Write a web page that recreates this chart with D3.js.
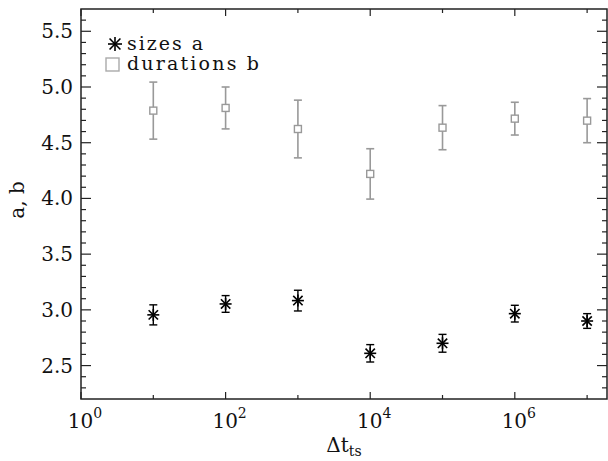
<!DOCTYPE html>
<html>
<head>
<meta charset="utf-8">
<script src="https://cdn.jsdelivr.net/npm/d3@7"></script>
<style>
  html, body { margin: 0; padding: 0; background: #fff; }
  svg { display: block; }
  text { font-family: "DejaVu Serif", "Liberation Serif", serif; fill: #111; }
</style>
</head>
<body>
<svg id="chart" width="608" height="461"></svg>
<script>
// ---- data ----
const xExponents = [1, 2, 3, 4, 5, 6, 7];           // Δt_ts = 10^k
const sizesA     = [2.955, 3.053, 3.083, 2.610, 2.700, 2.966, 2.900];
const sizesAErr  = [0.090, 0.075, 0.093, 0.078, 0.080, 0.075, 0.066];
const durB       = [4.788, 4.812, 4.623, 4.220, 4.635, 4.716, 4.698];
const durBErr    = [0.256, 0.188, 0.259, 0.226, 0.198, 0.147, 0.198];
const yTickLabels = ["2.5", "3.0", "3.5", "4.0", "4.5", "5.0", "5.5"];
const xTickLabelExp = [0, 2, 4, 6];
const legendLabels = ["sizes a", "durations b"];

// ---- layout ----
const L = 81, R = 607, T = 9, B = 399;
const svg = d3.select("#chart");

const x = d3.scaleLog().domain([1, Math.pow(10, 7.275)]).range([L, R]);
const y = d3.scaleLinear().domain([2.2, 5.7]).range([B, T]);

const axisColor = "#222";
const gray = "#999";

// frame
svg.append("rect").attr("x", L).attr("y", T).attr("width", R - L).attr("height", B - T)
  .attr("fill", "none").attr("stroke", axisColor).attr("stroke-width", 1.5);

// y ticks (major every 0.5, minor every 0.1)
const yMinor = d3.range(23, 57).map(v => v / 10);
yMinor.forEach(v => {
  const major = Math.abs(v * 2 - Math.round(v * 2)) < 1e-6;
  const len = major ? 10 : 5;
  const yy = y(v);
  svg.append("line").attr("x1", L).attr("x2", L + len).attr("y1", yy).attr("y2", yy)
    .attr("stroke", axisColor).attr("stroke-width", 1.2);
  svg.append("line").attr("x1", R).attr("x2", R - len).attr("y1", yy).attr("y2", yy)
    .attr("stroke", axisColor).attr("stroke-width", 1.2);
});
yTickLabels.forEach(t => {
  svg.append("text").attr("x", L - 8).attr("y", y(+t) + 7)
    .attr("text-anchor", "end").attr("font-size", 20).text(t);
});

// x ticks
d3.range(0, 8).forEach(k => {
  const xx = x(Math.pow(10, k));
  const major = xTickLabelExp.includes(k);
  const len = major ? 7 : 4;
  svg.append("line").attr("x1", xx).attr("x2", xx).attr("y1", B).attr("y2", B - len)
    .attr("stroke", axisColor).attr("stroke-width", 1.2);
  svg.append("line").attr("x1", xx).attr("x2", xx).attr("y1", T).attr("y2", T + len)
    .attr("stroke", axisColor).attr("stroke-width", 1.2);
});
xTickLabelExp.forEach(k => {
  const t = svg.append("text").attr("x", x(Math.pow(10, k)) + 4).attr("y", 428)
    .attr("text-anchor", "middle").attr("font-size", 20);
  t.append("tspan").text("10");
  t.append("tspan").attr("dy", -10).attr("font-size", 14).text(k);
});

// axis titles
const xt = svg.append("text").attr("x", (L + R) / 2).attr("y", 452)
  .attr("text-anchor", "middle").attr("font-size", 20);
xt.append("tspan").text("Δt");
xt.append("tspan").attr("dy", 4).attr("font-size", 14).text("ts");

svg.append("text").attr("transform", `translate(24,${(T + B) / 2 - 4}) rotate(-90)`)
  .attr("text-anchor", "middle").attr("font-size", 20).text("a, b");

// helpers
function errorBars(vals, errs, color, width) {
  const g = svg.append("g").attr("stroke", color).attr("stroke-width", width).attr("fill", "none");
  xExponents.forEach((k, i) => {
    const xx = x(Math.pow(10, k));
    const y1 = y(vals[i] + errs[i]), y0 = y(vals[i] - errs[i]);
    g.append("line").attr("x1", xx).attr("x2", xx).attr("y1", y1).attr("y2", y0);
    g.append("line").attr("x1", xx - 4).attr("x2", xx + 4).attr("y1", y1).attr("y2", y1);
    g.append("line").attr("x1", xx - 4).attr("x2", xx + 4).attr("y1", y0).attr("y2", y0);
  });
  return g;
}
function asterisk(g, cx, cy, r) {
  const p = g.append("g").attr("stroke", "#000").attr("stroke-width", 1.6);
  p.append("line").attr("x1", cx).attr("x2", cx).attr("y1", cy - r).attr("y2", cy + r);
  p.append("line").attr("x1", cx - r).attr("x2", cx + r).attr("y1", cy).attr("y2", cy);
  const d = r * 0.78;
  p.append("line").attr("x1", cx - d).attr("x2", cx + d).attr("y1", cy - d).attr("y2", cy + d);
  p.append("line").attr("x1", cx - d).attr("x2", cx + d).attr("y1", cy + d).attr("y2", cy - d);
}

// durations b (gray squares)
errorBars(durB, durBErr, gray, 1.6);
xExponents.forEach((k, i) => {
  const xx = x(Math.pow(10, k)), yy = y(durB[i]);
  svg.append("rect").attr("x", xx - 3.5).attr("y", yy - 3.5).attr("width", 7).attr("height", 7)
    .attr("fill", "#fff").attr("stroke", gray).attr("stroke-width", 1.4);
});

// sizes a (black asterisks)
errorBars(sizesA, sizesAErr, "#000", 1.4);
xExponents.forEach((k, i) => {
  asterisk(svg, x(Math.pow(10, k)), y(sizesA[i]), 6);
});

// legend
asterisk(svg, 115, 44, 7);
svg.append("rect").attr("x", 106).attr("y", 58).attr("width", 13).attr("height", 13)
  .attr("fill", "none").attr("stroke", "#aaa").attr("stroke-width", 1.4);
svg.append("text").attr("x", 127).attr("y", 50).attr("font-size", 19)
  .attr("textLength", 76).attr("lengthAdjust", "spacing").text(legendLabels[0]);
svg.append("text").attr("x", 127).attr("y", 70).attr("font-size", 19)
  .attr("textLength", 132).attr("lengthAdjust", "spacing").text(legendLabels[1]);
</script>
</body>
</html>
